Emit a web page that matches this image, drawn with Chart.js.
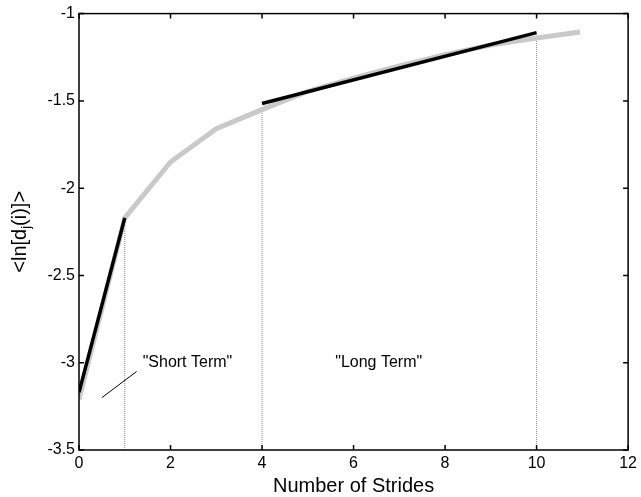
<!DOCTYPE html>
<html>
<head>
<meta charset="utf-8">
<script src="https://cdn.jsdelivr.net/npm/chart.js@4"></script>
<style>
  html, body { margin: 0; padding: 0; background: #fff; }
  #wrap { width: 641px; height: 497px; }
</style>
</head>
<body>
<div id="wrap"><canvas id="chart" width="641" height="497"></canvas></div>
<script>
// gemittelte Kurve (grau)
const kurveX = [0, 1, 2, 3, 4, 5, 6, 7, 8, 9, 10, 10.95];
const kurveY = [-3.21, -2.17, -1.85, -1.66, -1.55, -1.445, -1.37, -1.30, -1.235, -1.18, -1.14, -1.105];

// Regressionsgeraden (schwarz)
const kurzX = [0, 1];
const kurzY = [-3.17, -2.17];
const langX = [4, 10];
const langY = [-1.515, -1.109];

// gepunktete Senkrechte
const senkrechtX = [1, 4, 10];
const senkrechtTop = [-2.2, -1.545, -1.14];

// Beschriftungen
const textLabels = ['"Short Term"', '"Long Term"'];
const textX = [2.37, 6.55];
const textY = [-3.0, -3.0];
const zeigerX = [0.5, 1.26];
const zeigerY = [-3.2, -3.05];

const xTicks = [0, 2, 4, 6, 8, 10, 12];
const yTicks = [-3.5, -3, -2.5, -2, -1.5, -1];

const pts = (xs, ys) => xs.map((x, i) => ({ x: x, y: ys[i] }));

// order: kleiner = weiter oben
const datasets = [];
senkrechtX.forEach((x, i) => {
    datasets.push({
        data: [{ x: x, y: -3.5 }, { x: x, y: senkrechtTop[i] }],
        borderColor: "#8a8a8a",
        borderWidth: 1,
        borderDash: [1, 1],
        pointRadius: 0,
        order: 3
    });
});
datasets.push({ data: pts(kurveX, kurveY), borderColor: "#c9c9c9", borderWidth: 5, pointRadius: 0, order: 2 });
datasets.push({ data: pts(kurzX, kurzY), borderColor: "#000", borderWidth: 3.5, pointRadius: 0, order: 1 });
datasets.push({ data: pts(langX, langY), borderColor: "#000", borderWidth: 3.5, pointRadius: 0, order: 1 });
datasets.push({ data: pts(zeigerX, zeigerY), borderColor: "#000", borderWidth: 1, pointRadius: 0, order: 1 });

const FONT = "Liberation Sans, Arial, sans-serif";

// Rahmen, Ticks nach innen, Texte
const rahmenPlugin = {
    id: "rahmen",
    afterDraw(chart) {
        const ctx = chart.ctx;
        const a = chart.chartArea;
        const xs = chart.scales.x, ys = chart.scales.y;
        ctx.save();
        ctx.strokeStyle = "#000";
        ctx.lineWidth = 1.5;
        ctx.strokeRect(a.left, a.top, a.right - a.left, a.bottom - a.top);
        ctx.beginPath();
        xTicks.forEach(v => {
            const px = xs.getPixelForValue(v);
            ctx.moveTo(px, a.bottom); ctx.lineTo(px, a.bottom - 5);
            ctx.moveTo(px, a.top); ctx.lineTo(px, a.top + 5);
        });
        yTicks.forEach(v => {
            const py = ys.getPixelForValue(v);
            ctx.moveTo(a.left, py); ctx.lineTo(a.left + 5, py);
            ctx.moveTo(a.right, py); ctx.lineTo(a.right - 5, py);
        });
        ctx.stroke();

        ctx.fillStyle = "#000";
        ctx.font = "16px " + FONT;
        ctx.textAlign = "center";
        ctx.textBaseline = "middle";
        textLabels.forEach((t, i) => {
            ctx.fillText(t, xs.getPixelForValue(textX[i]), ys.getPixelForValue(textY[i]));
        });

        // Achsentitel
        ctx.font = "20px " + FONT;
        ctx.textBaseline = "alphabetic";
        ctx.fillText("Number of Strides", (a.left + a.right) / 2, 492);

        // y-Titel mit Index j
        ctx.translate(26, (a.top + a.bottom) / 2);
        ctx.rotate(-Math.PI / 2);
        const teil1 = "<ln[d", sub = "j", teil2 = "(i)]>";
        ctx.font = "20px " + FONT;
        const w1 = ctx.measureText(teil1).width, w3 = ctx.measureText(teil2).width;
        ctx.font = "13px " + FONT;
        const w2 = ctx.measureText(sub).width;
        let x0 = -(w1 + w2 + w3) / 2;
        ctx.textAlign = "left";
        ctx.font = "20px " + FONT;
        ctx.fillText(teil1, x0, 0);
        ctx.font = "13px " + FONT;
        ctx.fillText(sub, x0 + w1, 4);
        ctx.font = "20px " + FONT;
        ctx.fillText(teil2, x0 + w1 + w2, 0);
        ctx.restore();
    }
};

new Chart(document.getElementById("chart"), {
    type: "line",
    data: { datasets: datasets },
    options: {
        responsive: false,
        animation: false,
        layout: { padding: { top: 13, right: 9, left: 0, bottom: 0 } },
        plugins: { legend: { display: false }, tooltip: { enabled: false } },
        elements: { line: { tension: 0 } },
        scales: {
            x: {
                type: "linear",
                min: 0, max: 12,
                afterBuildTicks: s => { s.ticks = xTicks.map(v => ({ value: v })); },
                afterFit: s => { s.height = 47; },
                grid: { display: false, drawTicks: false },
                border: { display: false },
                ticks: { color: "#000", font: { size: 16, family: FONT }, padding: 4, maxRotation: 0,
                         callback: v => String(v) }
            },
            y: {
                type: "linear",
                min: -3.5, max: -1,
                afterBuildTicks: s => { s.ticks = yTicks.map(v => ({ value: v })); },
                afterFit: s => { s.width = 79; },
                grid: { display: false, drawTicks: false },
                border: { display: false },
                ticks: { color: "#000", font: { size: 16, family: FONT }, padding: 4,
                         callback: v => String(v) }
            }
        }
    },
    plugins: [rahmenPlugin]
});
</script>
</body>
</html>
